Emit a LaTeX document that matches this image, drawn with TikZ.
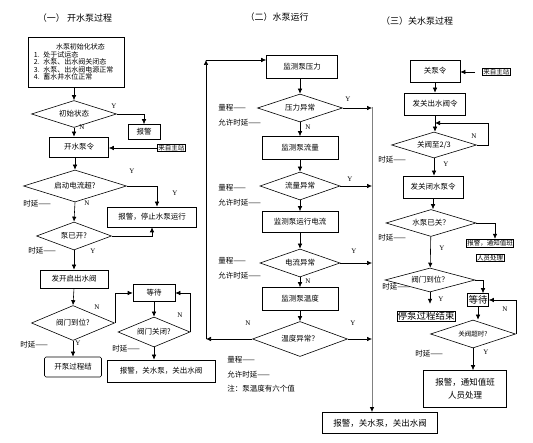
\documentclass[tikz,border=0pt]{standalone}
\usepackage{fontspec}
\newfontfamily\cjk{Noto Sans CJK SC}
\newfontfamily\latin{Liberation Serif}
\usetikzlibrary{shapes.geometric,arrows.meta}

\begin{document}
\begin{tikzpicture}[x=1pt, y=-1pt, line width=0.6pt,
    font=\cjk\fontsize{7.5}{9}\selectfont,
    box/.style 2 args={draw, inner sep=1pt, minimum width=#1, minimum height=#2},
    dec/.style 2 args={diamond, draw, aspect=3, inner sep=0pt, minimum width=#1, minimum height=#2},
    tag/.style={draw, inner sep=0.8pt, font=\cjk\fontsize{6.5}{7}\selectfont},
    title/.style={font=\cjk\fontsize{9}{10}\selectfont},
    big/.style={font=\cjk\fontsize{9.5}{11}\selectfont},
    yn/.style={inner sep=0pt, font=\latin\fontsize{7}{8}\selectfont},
    note/.style={anchor=west, inner sep=0pt},
    to/.style={-{Latex[length=5pt,width=4.5pt]}}]
    \useasboundingbox (0,0) rectangle (533,443);

    % (一) 开水泵过程
    \node[title] (t1) at (75,18) {（一）\ 开水泵过程};
    \node[draw, align=left, text width=84, inner xsep=6pt, minimum height=50,
        font=\cjk\fontsize{7}{7.5}\selectfont] (init) at (76,62)
        {\hspace*{22pt}水泵初始化状态\\1. 处于试运态\\2. 水泵、出水阀关闭态\\3. 水泵、出水阀电源正常\\4. 蓄水井水位正常};
    \node[dec={85}{27}] (d1) at (74,114) {初始状态};
    \node[box={32}{15}] (al1) at (144,132) {报警};
    \node[box={59}{20}] (c1) at (79,147) {开水泵令};
    \node[tag, line width=0.9pt, anchor=west] (s1) at (157,148) {来自主站};
    \node[dec={103}{32}] (d2) at (75,186) {启动电流超?};
    \node[box={89}{20}] (al2) at (152,217) {报警，停止水泵运行};
    \node[dec={75}{28}] (d3) at (74,236) {泵已开?};
    \node[box={68}{18}] (o1) at (74,279) {发开启出水阀};
    \node[dec={83}{35}] (d4) at (73,323) {阀门到位?};
    \node[box={42}{17}] (w1) at (154,293) {等待};
    \node[box={57}{20}, rounded corners=1.5pt] (e1) at (73,367) {开泵过程结};
    \node[dec={72}{30}] (d5) at (154,332) {阀门关闭?};
    \node[box={108}{22}] (a1) at (161,371) {报警，关水泵，关出水阀};

    \draw[to] (init.south -| d1.north) -- (d1.north);
    \draw[to] (d1.east) -| (al1.north);
    \draw[to] (d1.south) -- (d1.south |- c1.north);
    \draw[to] (s1.west) -- (s1.west -| c1.east);
    \draw[to] (c1.south -| d2.north) -- (d2.north);
    \draw[to] (d2.east) -| ([xshift=5pt]al2.north);
    \draw[to] (d2.south) -- (d3.north);
    \draw[to] (d3.east) -| (al2.south);
    \draw[to] (d3.south) -- (o1.north);
    \draw[to] (o1.south) -- (d4.north);
    \draw[to] (d4.east) |- (w1.west);
    \draw[to] (d4.south) -- (e1.north);
    \draw[to] (w1.south) -- (d5.north);
    \draw[to] (d5.east) |- (w1.east);
    \draw[to] (d5.south) -- (d5.south |- a1.north);

    \node[yn] (y11) at (114,106) {Y};
    \node[yn] (n11) at (82,127) {N};
    \node[yn] (y12) at (132,171) {Y};
    \node[yn] (y13) at (175,193) {Y};
    \node[yn] (n12) at (87,203) {N};
    \node[yn] (y14) at (93,251) {Y};
    \node[yn] (n13) at (97,307) {N};
    \node[yn] (y15) at (78,343) {Y};
    \node[yn] (n14) at (180,315) {N};
    \node[note] (l11) at (23,204) {时延——};
    \node[note] (l12) at (28,251) {时延——};
    \node[note] (l13) at (20,345) {时延——};
    \node[note] (l14) at (112,349) {时延——};

    % (二) 水泵运行
    \node[title] (t2) at (277,17) {（二）水泵运行};
    \node[box={71}{23}] (m1) at (302,67) {监测泵压力};
    \node[dec={85}{28}] (q1) at (300,108) {压力异常};
    \node[box={76}{23}] (m2) at (300,148) {监测泵流量};
    \node[dec={80}{28}] (q2) at (300,186) {流量异常};
    \node[box={76}{21}] (m3) at (300,222) {监测泵运行电流};
    \node[dec={80}{28}] (q3) at (300,263) {电流异常};
    \node[box={76}{23}] (m4) at (300,299) {监测泵温度};
    \node[dec={95}{35}] (q4) at (300,339) {温度异常？};
    \node[box={115}{21}, font=\cjk\fontsize{8.5}{10}\selectfont] (a2) at (380,423) {报警，关水泵，关出水阀};
    \coordinate (rt) at (372,107);
    \coordinate (lb) at (206,339);
    \coordinate (lt) at (206,60);

    \foreach \a/\b in {m1/q1, q1/m2, m2/q2, q2/m3, m3/q3, q3/m4, m4/q4}
        \draw[to] (\a.south -| \b.north) -- (\b.north);
    \foreach \q in {q1,q2,q3,q4}
        \draw[to] (\q.east) -- (\q.east -| rt);
    \draw[gray, line width=0.9pt, -{Latex[length=5pt,width=4.5pt,color=black]}] (rt) -- (rt |- a2.north);
    \draw[to] (q4.west) -- (lb);
    \draw[to] (lb) -- (lt);
    \draw[to] (lt) -- (lt -| m1.west);

    \node[yn] (y21) at (348,99) {Y};
    \node[yn] (y22) at (350,179) {Y};
    \node[yn] (y23) at (354,251) {Y};
    \node[yn] (y24) at (353,323) {Y};
    \node[yn] (n21) at (308,127) {N};
    \node[yn] (n22) at (308,281) {N};
    \node[yn] (n23) at (248,323) {N};
    \foreach \y in {108,188,261} {
        \node[note] (r\y) at (218,\y) {量程——};
        \node[note] (s\y) at (218,\y+14.5) {允许时延——};
    }
    \node[note] (r4) at (227,360) {量程——};
    \node[note] (s4) at (227,375) {允许时延——};
    \node[note] (rem) at (227,389) {注：泵温度有六个值};

    % (三) 关水泵过程
    \node[title] (t3) at (417,21) {（三）关水泵过程};
    \node[box={50}{22}] (k1) at (435,71) {关泵令};
    \node[tag, line width=0.9pt, anchor=west] (s3) at (482,72) {来自主站};
    \node[box={61}{22}] (k2) at (435,104) {发关出水阀令};
    \node[dec={85}{26}] (f1) at (434,145) {关阀至2/3};
    \node[box={60}{22}] (k3) at (433,187) {发关闭水泵令};
    \node[dec={90}{27}] (f2) at (431,223) {水泵已关？};
    \node[tag] (g1) at (490,243) {报警，通知值班};
    \node[tag] (g2) at (490,258) {人员处理};
    \node[dec={90}{24}] (f3) at (430,280) {阀门到位？};
    \node[box={20}{13}, big] (w3) at (478,300) {等待};
    \node[draw, inner sep=0.5pt, big] (e3) at (426,316) {停泵过程结束};
    \node[dec={85}{28}, font=\cjk\fontsize{6.5}{7}\selectfont] (f4) at (473,334) {关阀超时?};
    \node[box={83}{37}, align=center, font=\cjk\fontsize{8.5}{13}\selectfont] (a3) at (465,389) {报警，通知值班\\人员处理};
    \coordinate (lp) at (488,123);

    \draw[to, shorten <=7pt] (s3.west) -- (s3.west -| k1.east);
    \draw[to] (k1) -- (k2);
    \draw[to] (k2.south) -- (k2.south |- f1.north);
    \draw[to] (f1.east) -| (lp) -- (lp -| k2.south);
    \draw[to] (f1.south) -- (f1.south |- k3.north);
    \draw[to] (k3.south) -- (k3.south |- f2.north);
    \draw[to] (f2.east) -| ([xshift=5pt]g1.north);
    \draw[to] (f2) -- (f3);
    \draw[to] (f3.east) -| ([xshift=5pt]w3.north);
    \draw[to, shorten >=7pt] (f3.south) -- (f3.south |- e3.north);
    \draw[to] (w3.south) -- (w3.south |- f4.north);
    \draw[to] (f4.east) |- (w3.east);
    \draw[to] (f4.south) -- (f4.south |- a3.north);

    \node[yn] (n31) at (474,136) {N};
    \node[yn] (y31) at (446,164) {Y};
    \node[yn] (y32) at (442,248) {Y};
    \node[yn] (y33) at (441,299) {Y};
    \node[yn] (n32) at (505,309) {N};
    \node[yn] (y34) at (486,352) {Y};
    \node[note] (l31) at (378,160) {时延——};
    \node[note] (l32) at (378,238) {时延——};
    \node[note] (l33) at (382,287) {时延——};
    \node[note] (l34) at (415,354) {时延——};
\end{tikzpicture}
\end{document}
